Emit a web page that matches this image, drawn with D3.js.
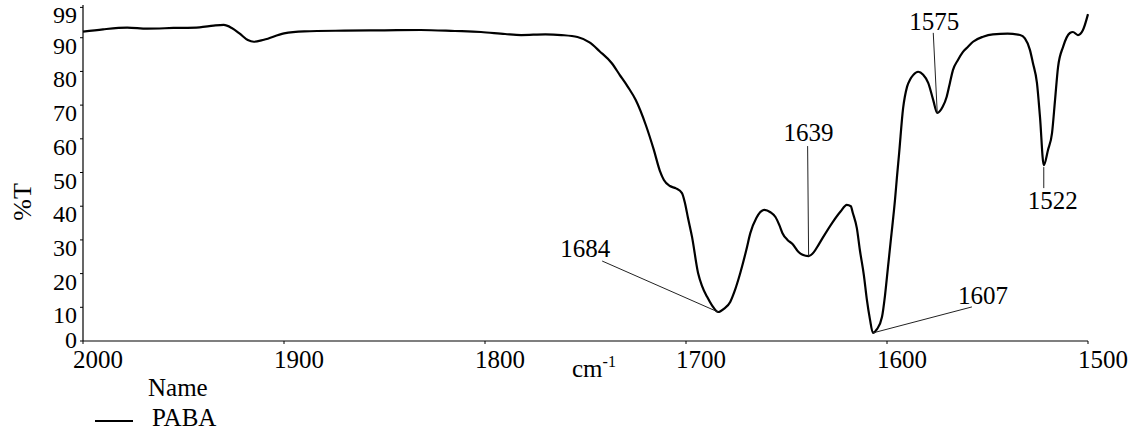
<!DOCTYPE html>
<html>
<head>
<meta charset="utf-8">
<script src="https://cdn.jsdelivr.net/npm/d3@7"></script>
<style>
  html, body { margin: 0; padding: 0; background: #fff; }
  svg { display: block; }
</style>
</head>
<body>
<svg id="chart" width="1142" height="432"></svg>
<script>
// IR spectrum of PABA, 2000–1500 cm-1
const wavenumbers = [
  2000, 1990, 1978, 1968, 1955, 1942, 1935, 1930, 1926, 1922, 1918, 1915, 1910, 1900,
  1890, 1870, 1850, 1832, 1815, 1802, 1790, 1782, 1770, 1762, 1754, 1748, 1743, 1737,
  1733, 1729, 1725, 1720, 1716, 1713, 1711, 1708, 1705, 1702, 1700.5, 1699, 1697, 1694,
  1692, 1689.5, 1687, 1684, 1681, 1678, 1676, 1673, 1670, 1668, 1665, 1661, 1658, 1655.5,
  1653.5, 1652, 1649.5, 1647, 1644, 1642, 1639, 1636.5, 1634, 1632, 1627, 1623, 1620,
  1618, 1617, 1615, 1613.5, 1611.5, 1610, 1608.5, 1607, 1605, 1602.5, 1601, 1599.5, 1598,
  1596, 1595, 1594, 1592, 1590, 1588.5, 1587, 1584.5, 1582, 1579.5, 1577, 1575, 1572.3,
  1570.3, 1568.7, 1567.2, 1564.7, 1562.2, 1559.7, 1557.2, 1552.2, 1547.3, 1540, 1533.8,
  1531.4, 1528.9, 1527.4, 1525.4, 1523.9, 1522, 1519.9, 1517.9, 1516.4, 1514.9, 1512.4,
  1509, 1507.5, 1505, 1502.5, 1500
];
const transmittance = [
  91.8, 92.5, 93.0, 92.7, 92.9, 93.1, 93.6, 93.8, 92.9, 91.2, 89.3, 88.8, 89.4, 91.3,
  91.9, 92.1, 92.2, 92.3, 92.0, 91.7, 91.1, 90.8, 91.0, 90.8, 90.2, 88.6, 86.0, 82.5,
  79.0, 75.5, 71.5, 64.1, 56.7, 50.5, 47.8, 46.0, 45.3, 43.9, 40.9, 36.5, 30.9, 20.2,
  16.3, 13.1, 10.5, 8.6, 9.6, 11.6, 14.5, 20.2, 27.0, 32.0, 36.5, 38.9, 38.2, 36.8,
  34.3, 32.0, 30.0, 28.8, 26.4, 25.6, 25.2, 26.3, 28.6, 30.6, 35.3, 38.5, 40.4,
  40.0, 38.0, 33.5, 27.0, 19.5, 12.2, 6.5, 2.4, 3.5, 7.1, 13.5, 22.0, 30.5,
  42.0, 49.0, 55.5, 69.0, 75.5, 77.6, 78.9, 79.9, 79.0, 76.6, 71.5, 67.7, 69.5,
  72.5, 76.6, 80.4, 83.4, 85.8, 87.3, 88.8, 90.3, 91.0, 91.2, 90.8,
  89.8, 86.4, 82.5, 76.6, 66.6, 52.2, 56.7, 61.7, 71.5, 81.3, 87.3,
  91.4, 91.7, 90.8, 92.3, 97.0
];

// Axis ticks
const xTicks = [2000, 1900, 1800, 1700, 1600, 1500];
const yTicks = [0, 10, 20, 30, 40, 50, 60, 70, 80, 90, 99];

// Labelled peak positions (cm-1)
const peakLabels = [1684, 1639, 1607, 1575, 1522];

// Plot frame
const plotLeft = 83, plotRight = 1088, plotTop = 7.4, plotBottom = 341;
const serif = "'Liberation Serif', 'Times New Roman', serif";

const x = d3.scaleLinear().domain([2000, 1500]).range([plotLeft, plotRight]);
const y = d3.scaleLinear().domain([0, 99]).range([plotBottom, plotTop]);

const svg = d3.select("#chart");

// every label uses the same serif face
function label(sel, size) {
  return sel.style("font-family", serif).style("font-size", size + "px").attr("fill", "#000");
}

// Y axis
const yAxis = svg.append("g");
yAxis.append("line")
  .attr("x1", plotLeft).attr("x2", plotLeft)
  .attr("y1", 5).attr("y2", plotBottom)
  .attr("stroke", "#000").attr("stroke-width", 1.2);
yAxis.selectAll("line.tick").data(yTicks).join("line")
  .attr("class", "tick")
  .attr("x1", plotLeft - 3).attr("x2", plotLeft)
  .attr("y1", d => y(d)).attr("y2", d => y(d))
  .attr("stroke", "#000").attr("stroke-width", 1);
// labels hang below their tick, never dropping beneath the plot floor
label(yAxis.selectAll("text").data(yTicks).join("text"), 24)
  .attr("x", plotLeft - 6)
  .attr("y", d => Math.min(y(d) + 16, plotBottom + 7))
  .attr("text-anchor", "end")
  .text(d => d);

// X axis
const xAxis = svg.append("g");
xAxis.append("line")
  .attr("x1", plotLeft).attr("x2", plotRight)
  .attr("y1", plotBottom).attr("y2", plotBottom)
  .attr("stroke", "#000").attr("stroke-width", 1.2);
xAxis.selectAll("line.tick").data(xTicks).join("line")
  .attr("class", "tick")
  .attr("x1", d => x(d)).attr("x2", d => x(d))
  .attr("y1", plotBottom).attr("y2", plotBottom + 3)
  .attr("stroke", "#000").attr("stroke-width", 1);
label(xAxis.selectAll("text").data(xTicks).join("text"), 25)
  .attr("x", d => x(d) - 10)
  .attr("y", plotBottom + 27)
  .attr("text-anchor", "start")
  .text(d => d);

// Axis titles
const unit = label(svg.append("text"), 25)
  .attr("x", 572).attr("y", 377);
unit.append("tspan").text("cm");
unit.append("tspan").style("font-size", "16px").attr("dy", -10).text("-1");

label(svg.append("text"), 26)
  .attr("transform", "translate(31,202) rotate(-90)")
  .attr("text-anchor", "middle")
  .text("%T");

// Spectrum trace
const series = wavenumbers.map((w, i) => ({ w, t: transmittance[i] }));
const line = d3.line()
  .x(d => x(d.w))
  .y(d => y(d.t))
  .curve(d3.curveMonotoneX);

svg.append("path")
  .datum(series)
  .attr("d", line)
  .attr("fill", "none")
  .attr("stroke", "#000")
  .attr("stroke-width", 2.2)
  .attr("stroke-linejoin", "round");

// Peak annotations: text placement and leader end relative to the peak point
const peakLayout = {
  1684: { tx: -158, ty: -55, lx: -116, ly: -51, ls: 0 },
  1639: { tx: -25, ty: -115, lx: -1, ly: -110, ls: 0 },
  1607: { tx: 85, ty: -29, lx: 99, ly: -26, ls: 0 },
  1575: { tx: -28, ty: -83, lx: -4, ly: -80, ls: 0 },
  1522: { tx: -16, ty: 44, lx: 0, ly: 23, ls: 2 }
};

const peaks = peakLabels.map(w => {
  const i = wavenumbers.indexOf(w);
  return { w, t: transmittance[i] };
});

const ann = svg.append("g");
peaks.forEach(p => {
  const L = peakLayout[p.w];
  const px = x(p.w), py = y(p.t);
  ann.append("line")
    .attr("x1", px).attr("y1", py + L.ls)
    .attr("x2", px + L.lx).attr("y2", py + L.ly)
    .attr("stroke", "#222").attr("stroke-width", 1);
  label(ann.append("text"), 25)
    .attr("x", px + L.tx).attr("y", py + L.ty)
    .text(p.w);
});

// Legend
const legend = svg.append("g");
label(legend.append("text"), 25)
  .attr("x", 148).attr("y", 396)
  .text("Name");
legend.append("line")
  .attr("x1", 95).attr("x2", 133)
  .attr("y1", 421).attr("y2", 421)
  .attr("stroke", "#000").attr("stroke-width", 2.2);
label(legend.append("text"), 25)
  .attr("x", 152).attr("y", 426)
  .text("PABA");
</script>
</body>
</html>
